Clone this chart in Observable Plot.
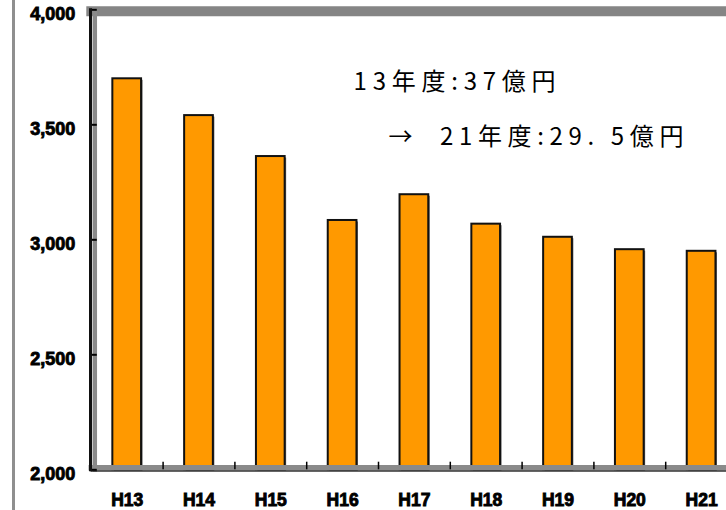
<!DOCTYPE html>
<html>
<head>
<meta charset="utf-8">
<script src="https://cdn.jsdelivr.net/npm/d3@7"></script>
<script src="https://cdn.jsdelivr.net/npm/@observablehq/plot@0.6"></script>
<style>
  body { margin: 0; background: #fff; }
  #wrap { position: relative; width: 726px; height: 510px; overflow: hidden; }
  #edge { position: absolute; left: 12px; top: 0; width: 3px; height: 510px; background: #8f8f8f; }
  #wrap svg g[aria-label="y-axis tick label"] text,
  #wrap svg g[aria-label="x-axis tick label"] text { stroke: #000; stroke-width: 0.9px; }
</style>
</head>
<body>
<div id="wrap"><div id="edge"></div></div>
<script>
// ---- data ----
const years = ["H13", "H14", "H15", "H16", "H17", "H18", "H19", "H20", "H21"];
const amounts = [3700, 3540, 3362, 3084, 3196, 3068, 3011, 2957, 2950];
const yTicks = [2000, 2500, 3000, 3500, 4000];
const noteLine1 = "13年度:37億円";
const noteLine2 = "→  21年度:29. 5億円";

// ---- layout ----
const W = 726, H = 510;
const xRange = [90.8, 737];
const step = (xRange[1] - xRange[0]) / years.length;
const padIn = 0.6, padOut = 0.3;
const fmt = d3.format(",");

const chart = Plot.plot({
  width: W,
  height: H,
  marginLeft: 90.8,
  marginRight: 0,
  marginTop: 9.3,
  marginBottom: 40.7,
  style: { fontFamily: "Liberation Sans, Arial, sans-serif", background: "white", color: "#000" },
  x: { type: "band", domain: years, range: xRange, paddingInner: padIn, paddingOuter: padOut, round: false },
  y: { domain: [2000, 4000] },
  marks: [
    // back wall top edge & left wall shading
    Plot.frame({ anchor: "top", stroke: "#858585", strokeWidth: 10, dy: 1.5 }),
    Plot.frame({ anchor: "left", stroke: "#8a8a8a", strokeWidth: 4.5, dx: 3.5 }),
    // bar shadows
    Plot.barY(amounts, { x: years, y1: 2000, y2: d => d, fill: "#6a6a6a", dx: 1.5, dy: 1.5 }),
    // bars
    Plot.barY(amounts, { x: years, y1: 2000, y2: d => d, fill: "#FF9900", stroke: "#111", strokeWidth: 2 }),
    // floor
    Plot.frame({ anchor: "bottom", stroke: "#8a8a8a", strokeWidth: 5.5, dy: -2 }),
    Plot.frame({ anchor: "bottom", stroke: "#333", strokeWidth: 1.5, dy: 1.2 }),
    // category boundary ticks
    Plot.ruleX(years.slice(0, -1), { x: d => d, dx: step / 2, y1: 2000, y2: 2033, stroke: "#000", strokeWidth: 1.5 }),
    // y axis inward ticks (short ticks just inside the value axis)
    Plot.tickY(yTicks, { y: d => d, x: () => years[0], dx: -padOut * step, insetRight: (1 - padIn) * step - 6, stroke: "#000", strokeWidth: 2 }),
    // y axis labels
    Plot.axisY(yTicks, { tickSize: 0, tickPadding: 16, tickFormat: fmt, fontSize: 18, fontWeight: "bold", dy: 4 }),
    // y axis line
    Plot.frame({ anchor: "left", stroke: "#111", strokeWidth: 3, dx: -0.8 }),
    // x axis labels
    Plot.axisX({ tickSize: 0, tickPadding: 24, fontSize: 17.5, fontWeight: "bold" }),
    // annotation
    Plot.text([noteLine1], { x: ["H16"], y: [3686], text: d => d, textAnchor: "start", dx: 11, fontSize: 24, fontFamily: "Noto Sans CJK JP", fill: "#000" }),
    Plot.text([noteLine2], { x: ["H17"], y: [3447], text: d => d, textAnchor: "start", dx: -26, fontSize: 24, fontFamily: "Noto Sans CJK JP", fill: "#000" })
  ]
});

// stretch annotation lines to the reference widths
const noteWidths = [202, 295];
d3.select(chart).selectAll('g[aria-label="text"]').each(function (_, i) {
  d3.select(this).selectAll("text").attr("textLength", noteWidths[i]).attr("lengthAdjust", "spacing");
});

document.getElementById("wrap").appendChild(chart);
</script>
</body>
</html>
